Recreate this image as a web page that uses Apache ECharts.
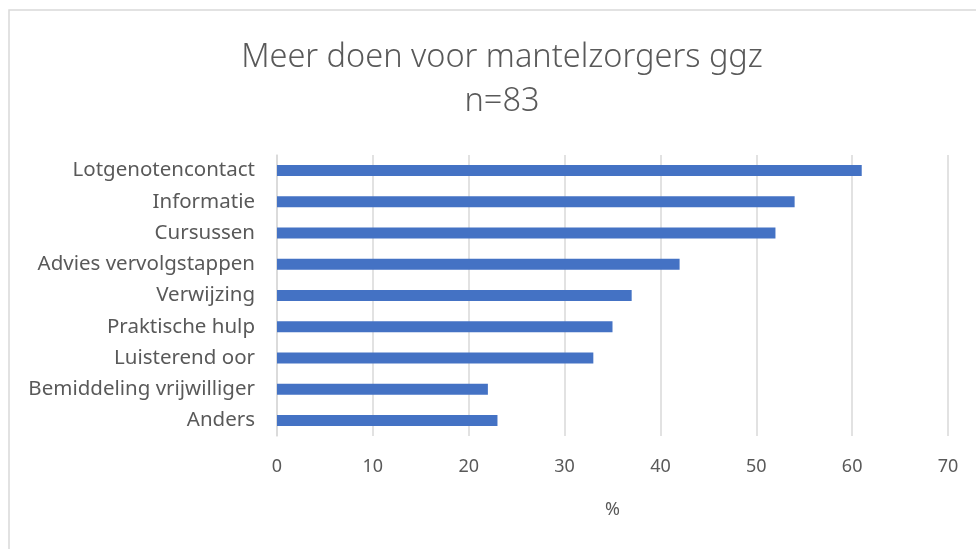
<!DOCTYPE html>
<html lang="nl">
<head>
<meta charset="utf-8">
<title>Meer doen voor mantelzorgers ggz</title>
<script src="https://cdn.jsdelivr.net/npm/echarts@6.0.0/dist/echarts.min.js"></script>
<style>
    html, body { margin: 0; padding: 0; background: #fff; }
    #chart { width: 976px; height: 549px; }
</style>
</head>
<body>
<div id="chart"></div>
<script>
    // data, top to bottom as shown
    var categories = ['Lotgenotencontact', 'Informatie', 'Cursussen', 'Advies vervolgstappen',
        'Verwijzing', 'Praktische hulp', 'Luisterend oor', 'Bemiddeling vrijwilliger', 'Anders'];
    var values = [61, 54, 52, 42, 37, 35, 33, 22, 23];
    var titleText = 'Meer doen voor mantelzorgers ggz\nn=83';
    var xName = '%';

    var chart = echarts.init(document.getElementById('chart'));
    var textColor = '#595959';
    var font = 'Noto Sans';

    chart.setOption({
        animation: false,
        title: {
            text: titleText,
            left: 497,
            textAlign: 'center',
            top: 31,
            textStyle: {
                fontFamily: font,
                fontWeight: 300,
                fontSize: 32.5,
                lineHeight: 44,
                color: textColor
            }
        },
        graphic: [{
            type: 'rect',
            shape: { x: 9, y: 10, width: 980, height: 560 },
            style: { fill: 'none', stroke: '#d9d9d9', lineWidth: 1.5 },
            silent: true
        }],
        grid: { left: 277, right: 28, top: 155, bottom: 113 },
        xAxis: {
            type: 'value',
            min: 0,
            max: 70,
            interval: 10,
            name: xName,
            nameLocation: 'middle',
            nameGap: 65,
            nameTextStyle: { fontFamily: font, fontSize: 18, color: textColor },
            axisLine: { show: false },
            axisTick: { show: false },
            axisLabel: { margin: 22, fontFamily: font, fontSize: 18, color: textColor },
            splitLine: { lineStyle: { color: '#d9d9d9', width: 1.5 } }
        },
        yAxis: {
            type: 'category',
            inverse: true,
            data: categories,
            axisLine: { lineStyle: { color: '#d9d9d9', width: 1.5 } },
            axisTick: { show: false },
            axisLabel: { margin: 22, fontFamily: font, fontSize: 20.5, color: textColor }
        },
        series: [{
            type: 'bar',
            data: values,
            barWidth: 11,
            itemStyle: { color: '#4472c4' }
        }]
    });
</script>
</body>
</html>
